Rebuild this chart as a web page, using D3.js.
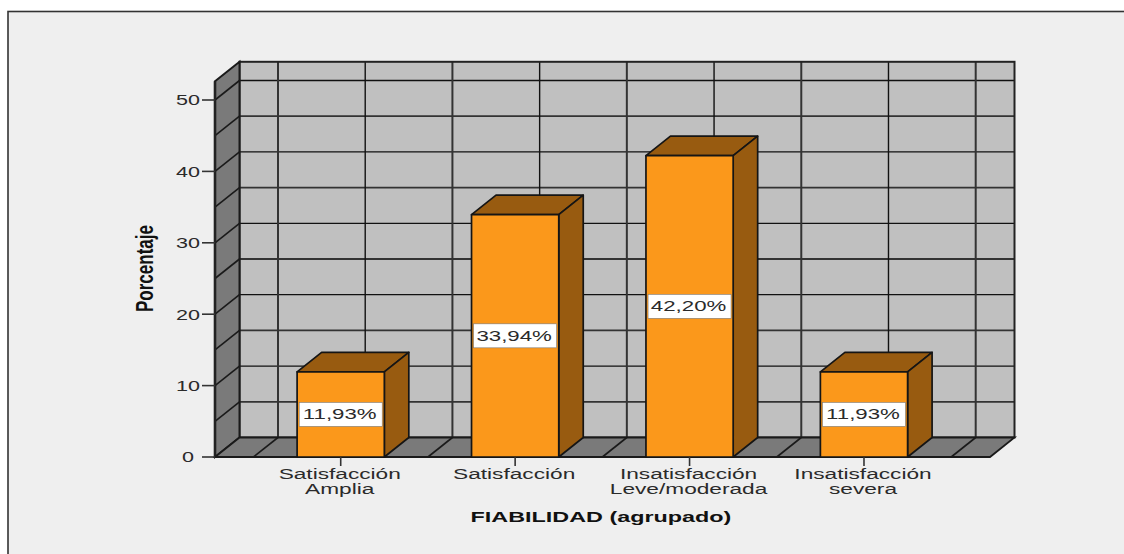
<!DOCTYPE html>
<html><head><meta charset="utf-8">
<script src="https://cdn.jsdelivr.net/npm/d3@7/dist/d3.min.js"></script>
<style>html,body{margin:0;padding:0;background:#fff;overflow:hidden}svg{display:block}text{font-family:"Liberation Sans",Arial,sans-serif}</style>
</head><body><svg id="c" width="1124" height="554"></svg>
<script>
const categories = [["Satisfacción","Amplia"],["Satisfacción"],["Insatisfacción","Leve/moderada"],["Insatisfacción","severa"]];
const values = [11.93, 33.94, 42.20, 11.93];
const yTickValues = [0,10,20,30,40,50];
const gridValues = [5,10,15,20,25,30,35,40,45,50];
const xTitle = "FIABILIDAD (agrupado)";
const yTitle = "Porcentaje";

const svg = d3.select("#c");
const DX = 24.5, DY = -19.5, left = 215, right = 990;
const y = d3.scaleLinear().domain([0,50]).range([457,100]);
const x = d3.scaleBand().domain(d3.range(categories.length)).range([253.5,951.2]).paddingInner(0.5).paddingOuter(0.25);
const yTop = 81.3, yBase = y(0);
const poly = p => p.map(q=>q.join(",")).join(" ");
const line = (x1,y1,x2,y2,w=1.5,c="#222") => svg.append("line").attr("x1",x1).attr("y1",y1).attr("x2",x2).attr("y2",y2).attr("stroke",c).attr("stroke-width",w);
const label = (t,px,py,size,weight,fill,scx,scy,rot) => svg.append("text").text(t).attr("text-anchor","middle")
  .attr("transform",`translate(${px},${py}) ${rot?`rotate(${rot}) `:""}scale(${scx},${scy})`)
  .attr("font-size",size).attr("font-weight",weight).attr("fill",fill);

// panel
svg.append("rect").attr("x",8).attr("y",11.5).attr("width",1130).attr("height",560).attr("fill","#efefef").attr("stroke","#333").attr("stroke-width",1.6);

// back wall
svg.append("rect").attr("x",left+DX).attr("y",yTop+DY).attr("width",right-left).attr("height",yBase-yTop).attr("fill","#c0c0c0");
gridValues.forEach(v=>line(left+DX,y(v)+DY,right+DX,y(v)+DY,v%10?1.8:1.3,v%10?"#333":"#111"));
const edges = d3.range(categories.length+1).map(i=>x(0)-x.bandwidth()/2+i*x.step());
edges.forEach(e=>line(e+DX,yTop+DY,e+DX,yBase+DY,2,"#333"));
categories.forEach((c,i)=>line(x(i)+x.bandwidth()/2+DX,yTop+DY,x(i)+x.bandwidth()/2+DX,yBase+DY,1.4,"#111"));
svg.append("rect").attr("x",left+DX).attr("y",yTop+DY).attr("width",right-left).attr("height",yBase-yTop).attr("fill","none").attr("stroke","#222").attr("stroke-width",2);

// side wall
svg.append("polygon").attr("points",poly([[left,yTop],[left+DX,yTop+DY],[left+DX,yBase+DY],[left,yBase]])).attr("fill","#7a7a7a").attr("stroke","#1a1a1a").attr("stroke-width",2);
gridValues.forEach(v=>line(left,y(v),left+DX,y(v)+DY,1.6,"#1a1a1a"));
line(left,yTop,left,yBase,2.6,"#222");

// floor
svg.append("polygon").attr("points",poly([[left,yBase],[left+DX,yBase+DY],[right+DX,yBase+DY],[right,yBase]])).attr("fill","#7a7a7a").attr("stroke","#1a1a1a").attr("stroke-width",1.8);
edges.forEach(e=>line(e,yBase,e+DX,yBase+DY,1.6,"#1a1a1a"));
categories.forEach((c,i)=>{const m=x(i)+x.bandwidth()/2;line(m,yBase,m+DX,yBase+DY,1.6,"#1a1a1a");});

// y axis
yTickValues.forEach(v=>{
  line(202,y(v),left,y(v),1.6,"#333");
  label(String(v),188,y(v)+5.3,14,"normal","#2a2a2a",1.54,1);
});
// bars
values.forEach((v,i)=>{
  const a=x(i), b=a+x.bandwidth(), t=y(v);
  const st=(s)=>s.attr("stroke","#151515").attr("stroke-width",1.7).attr("stroke-linejoin","round");
  st(svg.append("polygon").attr("points",poly([[a,t],[a+DX,t+DY],[b+DX,t+DY],[b,t]])).attr("fill","#985b10"));
  st(svg.append("polygon").attr("points",poly([[b,t],[b+DX,t+DY],[b+DX,yBase+DY],[b,yBase]])).attr("fill","#985b10"));
  st(svg.append("rect").attr("x",a).attr("y",t).attr("width",b-a).attr("height",yBase-t).attr("fill","#fb981b"));
  const m=(a+b)/2, my=(t+yBase)/2;
  svg.append("rect").attr("x",m-41.5).attr("y",my-12).attr("width",83).attr("height",24).attr("fill","#fff").attr("stroke","#777").attr("stroke-width",.6);
  label(v.toFixed(2).replace(".",",")+"%",m-1,my+5,14,"normal","#2a2a2a",1.59,1);
  line(m,yBase,m,yBase+9,1.6,"#333");
  categories[i].forEach((s,j)=>label(s,m-1,479+j*15,14,"normal","#2a2a2a",1.62,1));
});
// titles
label(xTitle,601,522,14,"bold","#111",1.67,1);
label(yTitle,153,268.5,13,"bold","#111",1.31,1.85,-90);
</script></body></html>
